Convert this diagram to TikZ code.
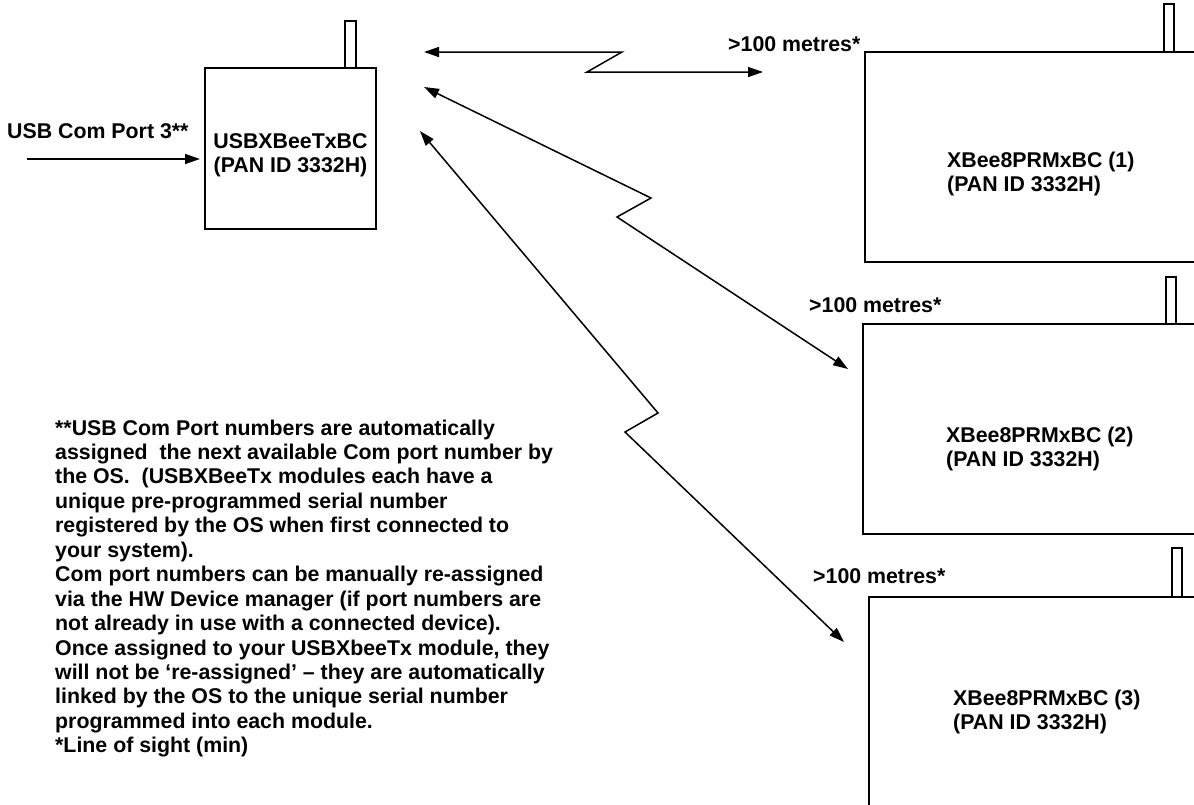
\documentclass[tikz,border=0pt]{standalone}
\usepackage{fontspec}
\setmainfont{Liberation Sans}
\usetikzlibrary{arrows.meta}
\begin{document}
\frenchspacing
\begin{tikzpicture}[x=1pt,y=-1pt,
  txt/.style={font=\fontsize{21.33}{24.5}\selectfont\bfseries, inner sep=0pt, anchor=base west},
  ctxt/.style={txt, anchor=base},
  devbox/.style={draw, line width=1.5pt, fill=white, inner sep=0pt, outer sep=0pt, anchor=north west},
  aerial/.style={draw, line width=1.5pt, fill=white, inner sep=0pt, outer sep=0pt, anchor=south west, minimum width=10pt, minimum height=48pt},
  tip/.style={Triangle[length=15pt,width=10pt]},
  link/.style={line width=1.5pt, line join=miter, {Triangle[length=15pt,width=10pt]}-{Triangle[length=15pt,width=10pt]}},
  feed/.style={line width=1.5pt, -{Triangle[length=15pt,width=10pt]}}]
\useasboundingbox (0,0) rectangle (1194,804);
\clip (0,0) rectangle (1194,804);

% USB transmitter
\node[aerial, minimum width=11pt, minimum height=47pt] (txant) at (345,68) {};
\node[devbox, minimum width=171pt, minimum height=161pt] (tx) at (205,68) {};
\node[ctxt] (txl1) at (290.5,148) {USBXBeeTxBC};
\node[ctxt] (txl2) at (290.5,172) {(PAN ID 3332H)};

% USB input
\node[txt] (usblbl) at (7,138) {USB Com Port 3**};
\coordinate (usbin) at (27,159);
\draw[feed, shorten >=5pt] (usbin) -- (usbin -| tx.west);

% Receivers
\node[aerial] (r1ant) at (1164,52) {};
\node[devbox, minimum width=340pt, minimum height=210pt] (r1) at (865,52) {};
\node[txt] (r1l1) at (947,167) {XBee8PRMxBC (1)};
\node[txt] (r1l2) at (947,191) {(PAN ID 3332H)};

\node[aerial, minimum height=47pt] (r2ant) at (1166,324) {};
\node[devbox, minimum width=340pt, minimum height=210pt] (r2) at (863,324) {};
\node[txt] (r2l1) at (946,442) {XBee8PRMxBC (2)};
\node[txt] (r2l2) at (946,466) {(PAN ID 3332H)};

\node[aerial, minimum height=49pt] (r3ant) at (1172,597) {};
\node[devbox, minimum width=340pt, minimum height=230pt] (r3) at (869,597) {};
\node[txt] (r3l1) at (953,705) {XBee8PRMxBC (3)};
\node[txt] (r3l2) at (953,729) {(PAN ID 3332H)};

% distance labels
\node[txt] (d1) at (728,51) {>100 metres*};
\node[txt] (d2) at (809,312) {>100 metres*};
\node[txt] (d3) at (813,583) {>100 metres*};

% radio links
\coordinate (l1a) at (424,52);
\coordinate (l1m) at (622,52);
\coordinate (l1n) at (587,72);
\coordinate (l1b) at (763,72);
\draw[link] (l1a) -- (l1m) -- (l1n) -- (l1b);

\coordinate (l2a) at (424,87);
\coordinate (l2m) at (651,198);
\coordinate (l2n) at (617,217);
\coordinate (l2b) at (848,369);
\draw[link] (l2a) -- (l2m) -- (l2n) -- (l2b);

\coordinate (l3a) at (420,131);
\coordinate (l3m) at (658,413);
\coordinate (l3n) at (625,432);
\coordinate (l3b) at (844,642);
\draw[link] (l3a) -- (l3m) -- (l3n) -- (l3b);

% notes
\foreach \ln [count=\i from 0] in {
  {**USB Com Port numbers are automatically},
  {assigned~ the next available Com port number by},
  {the OS.~ (USBXBeeTx modules each have a},
  {unique pre-programmed serial number},
  {registered by the OS when first connected to},
  {your system).},
  {Com port numbers can be manually re-assigned},
  {via the HW Device manager (if port numbers are},
  {not already in use with a connected device).},
  {Once assigned to your USBXbeeTx module, they},
  {will not be ‘re-assigned’ – they are automatically},
  {linked by the OS to the unique serial number},
  {programmed into each module.},
  {*Line of sight (min)}}
  \node[txt] (note\i) at (55,435+24.45*\i) {\ln};
\end{tikzpicture}
\end{document}
